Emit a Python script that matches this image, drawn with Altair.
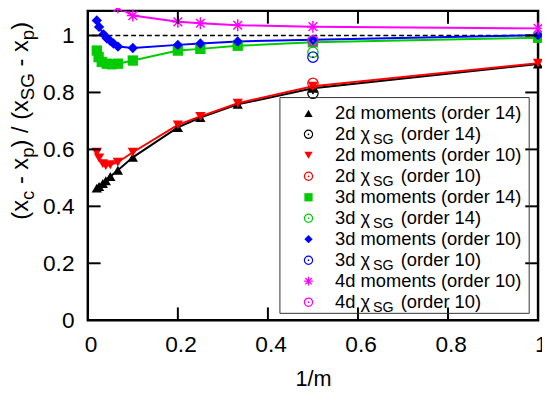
import altair as alt
import pandas as pd

# ---------------- data ----------------
KEYS = ["2d14", "2d10", "3d14", "3d10", "4d10"]
COLORS = ["#000000", "#ff0000", "#00cc00", "#0000ff", "#ff00ff"]

X_2D = [0.02, 0.025, 0.0333, 0.04, 0.05, 0.0667, 0.1, 0.2, 0.25, 0.333, 0.5, 1.0]
Y_2D_14 = [0.464, 0.470, 0.480, 0.490, 0.505, 0.527, 0.572, 0.677, 0.712, 0.758, 0.815, 0.900]
Y_2D_10 = [0.590, 0.570, 0.550, 0.543, 0.546, 0.555, 0.590, 0.686, 0.716, 0.762, 0.822, 0.903]
X_3D_14 = [0.02, 0.024, 0.031, 0.042, 0.053, 0.067, 0.1, 0.2, 0.25, 0.333, 0.5, 1.0]
Y_3D_14 = [0.947, 0.924, 0.907, 0.901, 0.899, 0.901, 0.912, 0.947, 0.953, 0.964, 0.976, 0.992]
X_3D_10 = [0.02, 0.025, 0.035, 0.042, 0.05, 0.057, 0.067, 0.1, 0.2, 0.25, 0.333, 0.5, 1.0]
Y_3D_10 = [1.053, 1.030, 1.004, 0.990, 0.981, 0.972, 0.961, 0.956, 0.967, 0.972, 0.979, 0.985, 1.001]
X_4D_10 = [0.05, 0.0667, 0.1, 0.2, 0.25, 0.333, 0.5, 1.0]
Y_4D_10 = [1.125, 1.099, 1.070, 1.048, 1.043, 1.036, 1.031, 1.025]

CHI_KEYS = ["2d14", "2d10", "3d14", "3d10", "4d10"]
X_CHI = [0.5, 0.5, 0.5, 0.5, 0.5]
Y_CHI = [0.797, 0.832, 0.941, 0.924, 0.981]

X_TICKS = [0.2, 0.4, 0.6, 0.8]
Y_TICKS = [0.2, 0.4, 0.6, 0.8, 1.0]
AXIS_VALUES = [0, 0.2, 0.4, 0.6, 0.8, 1.0]

LEGEND_LABELS = [
    "2d moments (order 14)", "2d χ_SG (order 14)",
    "2d moments (order 10)", "2d χ_SG (order 10)",
    "3d moments (order 14)", "3d χ_SG (order 14)",
    "3d moments (order 10)", "3d χ_SG (order 10)",
    "4d moments (order 10)", "4d χ_SG (order 10)",
]
Y_TITLE = [("(x", 0), ("c", 1), (" - x", 0), ("p", 1), (") / (x", 0),
           ("SG", 1), (" - x", 0), ("p", 1), (")", 0)]

# ---------------- tables ----------------
def mk(key, xs, ys):
    return pd.DataFrame({"k": key, "x": xs, "y": ys})

mom = pd.concat([mk("2d14", X_2D, Y_2D_14), mk("2d10", X_2D, Y_2D_10),
                 mk("3d14", X_3D_14, Y_3D_14), mk("3d10", X_3D_10, Y_3D_10),
                 mk("4d10", X_4D_10, Y_4D_10)], ignore_index=True)
filled_df = mom[mom["k"] != "4d10"]
star_df = mom[mom["k"] == "4d10"]
chi = pd.DataFrame({"k": CHI_KEYS, "x": X_CHI, "y": Y_CHI})

# ---------------- layout ----------------
W, H = 457, 314
FONT = "Liberation Sans"
STAR = "M-1,0L1,0M0,-1L0,1M-0.72,-0.72L0.72,0.72M-0.72,0.72L0.72,-0.72"

xscale = alt.Scale(domain=[0, 1], nice=False, zero=False)
yscale = alt.Scale(domain=[0, 1.0865], nice=False, zero=False)
xaxis = alt.Axis(values=AXIS_VALUES, format="~g", ticks=False, tickSize=0, domain=False,
                 grid=False, labelFont=FONT, labelFontSize=23, labelPadding=14,
                 labelFlush=False, labelOffset=2.7, labelColor="black",
                 title="1/m", titleFont=FONT, titleFontSize=22, titleFontWeight="normal",
                 titleColor="black", titleBaseline="alphabetic", titleY=66)
yaxis = alt.Axis(values=AXIS_VALUES, format="~g", ticks=False, tickSize=0, domain=False,
                 grid=False, labelFont=FONT, labelFontSize=23, labelPadding=14,
                 labelColor="black", title="")
cscale = alt.Scale(domain=KEYS, range=COLORS)


def X():
    return alt.X("x:Q", scale=xscale, axis=xaxis)


def Y():
    return alt.Y("y:Q", scale=yscale, axis=yaxis)


def C():
    return alt.Color("k:N", scale=cscale, legend=None)


layers = []
layers.append(alt.Chart(pd.DataFrame({"y": [1.0]})).mark_rule(
    color="black", strokeWidth=1.5, strokeDash=[5, 3]).encode(y=Y()))
layers.append(alt.Chart(mom).mark_line(strokeWidth=2, clip=True).encode(x=X(), y=Y(), color=C()))
layers.append(alt.Chart(filled_df).mark_point(filled=True, size=110, opacity=1).encode(
    x=X(), y=Y(), color=C(),
    shape=alt.Shape("k:N", scale=alt.Scale(domain=KEYS[:4],
                    range=["triangle-up", "triangle-down", "square", "diamond"]), legend=None)))
layers.append(alt.Chart(star_df).mark_point(shape=STAR, filled=False, size=150, strokeWidth=1.5,
                                            color="#ff00ff", opacity=1).encode(x=X(), y=Y()))
layers.append(alt.Chart(chi).mark_point(shape="circle", filled=False, size=110, strokeWidth=1.3,
                                        opacity=1).encode(x=X(), y=Y(), color=C()))
layers.append(alt.Chart(chi).mark_point(shape="circle", filled=True, size=4, opacity=1).encode(
    x=X(), y=Y(), color=C()))

# inward ticks on all four sides
xt = pd.DataFrame({"x": X_TICKS})
yt = pd.DataFrame({"y": Y_TICKS})
TL = 13
layers.append(alt.Chart(xt).mark_rule(color="black", strokeWidth=2).encode(
    x=X(), y=alt.value(H), y2=alt.value(H - TL)))
layers.append(alt.Chart(xt).mark_rule(color="black", strokeWidth=2).encode(
    x=X(), y=alt.value(0), y2=alt.value(TL)))
layers.append(alt.Chart(yt).mark_rule(color="black", strokeWidth=2).encode(
    y=Y(), x=alt.value(0), x2=alt.value(TL)))
layers.append(alt.Chart(yt).mark_rule(color="black", strokeWidth=2).encode(
    y=Y(), x=alt.value(W), x2=alt.value(W - TL)))

# ---------------- manual legend ----------------
CW = {' ': 278, '(': 333, ')': 333, '-': 333, '/': 278, '.': 278, 'x': 500, 'c': 500,
      'p': 556, 'S': 667, 'G': 778, 'd': 556, 'm': 833, 'o': 556, 'e': 556, 'n': 556,
      't': 278, 's': 500, 'r': 333, 'χ': 540}


def tw(s, fs):
    return sum(CW.get(ch, 556) for ch in s) / 1000.0 * fs


def piece(txt, x, y, fs, angle=0, baseline="middle"):
    lead = len(txt) - len(txt.lstrip(" "))
    if angle == 0:
        x = x + tw(txt[:lead], fs)
    else:
        y = y - tw(txt[:lead], fs)
    kw = dict(align="left", baseline=baseline, font=FONT, fontSize=fs, color="black")
    if angle:
        kw["angle"] = angle
    return alt.Chart(pd.DataFrame({"t": [txt.strip()]})).mark_text(**kw).encode(
        x=alt.value(x), y=alt.value(y), text="t:N")


layers.append(alt.Chart(pd.DataFrame({"a": [0]})).mark_rect(
    fillOpacity=0, stroke="#333333", strokeWidth=1).encode(
    x=alt.value(195), x2=alt.value(448), y=alt.value(88), y2=alt.value(307)))

SYM = [("triangle-up", True), ("circle", False), ("triangle-down", True), ("circle", False),
       ("square", True), ("circle", False), ("diamond", True), ("circle", False),
       (STAR, False), ("circle", False)]
LFS = 18.6
SFS = 14.5
for i, lab in enumerate(LEGEND_LABELS):
    ry = 104 + 21.3 * i
    col = COLORS[i // 2]
    shp, fil = SYM[i]
    one = pd.DataFrame({"a": [0]})
    if shp == STAR:
        layers.append(alt.Chart(one).mark_point(shape=STAR, filled=False, size=80, strokeWidth=1.3,
                                                color=col, opacity=1).encode(
            x=alt.value(224), y=alt.value(ry)))
    elif fil:
        layers.append(alt.Chart(one).mark_point(shape=shp, filled=True, size=70, color=col,
                                                opacity=1).encode(
            x=alt.value(224), y=alt.value(ry)))
    else:
        layers.append(alt.Chart(one).mark_point(shape="circle", filled=False, size=70,
                                                strokeWidth=1.2, color=col, opacity=1).encode(
            x=alt.value(224), y=alt.value(ry)))
        layers.append(alt.Chart(one).mark_point(shape="circle", filled=True, size=3, color=col,
                                                opacity=1).encode(
            x=alt.value(224), y=alt.value(ry)))
    x0 = 251
    if "_SG" in lab:
        pre, suf = lab.split("_SG")
        layers.append(piece(pre, x0, ry, LFS))
        xs = x0 + tw(pre, LFS) + 2.5
        layers.append(piece("SG", xs, ry + 6, SFS))
        layers.append(piece(suf, xs + tw("SG", SFS) + 2, ry, LFS))
    else:
        layers.append(piece(lab, x0, ry, LFS))

# ---------------- rotated y title with subscripts ----------------
ycur = 212
for txt, sub in Y_TITLE:
    fs = 19 if sub else 24
    bx = -61 + (6 if sub else 0)
    layers.append(piece(txt, bx, ycur, fs, angle=270, baseline="alphabetic"))
    ycur -= tw(txt, fs)

chart = alt.layer(*layers).properties(
    width=W, height=H,
    padding={"left": 81, "top": 0, "right": 4, "bottom": 74},
    autosize=alt.AutoSizeParams(type="none"),
).configure_view(stroke="black", strokeWidth=2.5)

chart.save("out.html", embed_options={"renderer": "svg", "actions": False})
